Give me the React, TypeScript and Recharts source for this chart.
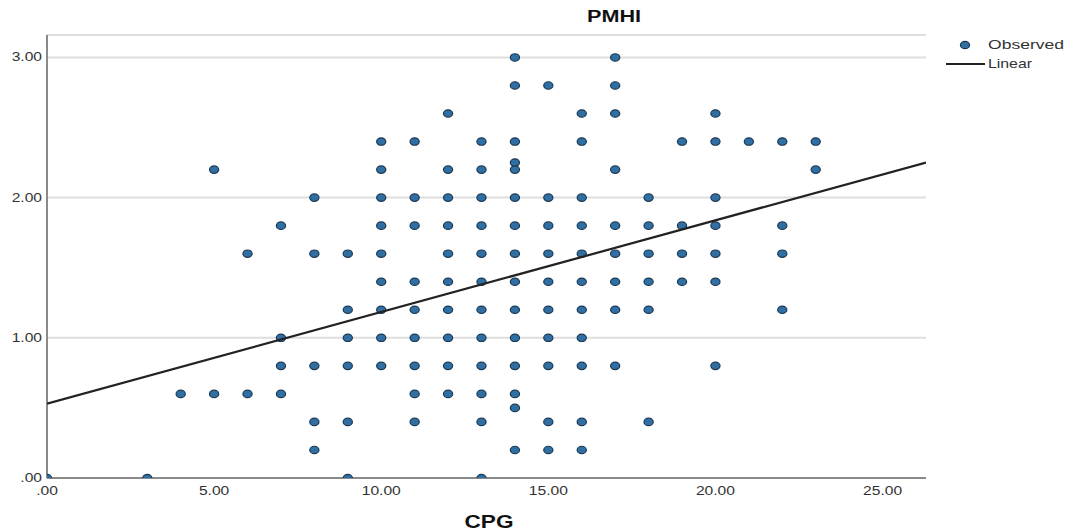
import React from "react";
import { ScatterChart, Scatter, XAxis, YAxis, CartesianGrid } from "recharts";

// Observed points: CPG (x) and PMHI (y)
const cpgValues: number[] = [
  0, 3, 4, 5, 5, 6, 6, 7, 7, 7, 7,
  8, 8, 8, 8, 8,
  9, 9, 9, 9, 9, 9,
  10, 10, 10, 10, 10, 10, 10, 10, 10,
  11, 11, 11, 11, 11, 11, 11, 11, 11,
  12, 12, 12, 12, 12, 12, 12, 12, 12, 12,
  13, 13, 13, 13, 13, 13, 13, 13, 13, 13, 13, 13,
  14, 14, 14, 14, 14, 14, 14, 14, 14, 14, 14, 14, 14, 14, 14,
  15, 15, 15, 15, 15, 15, 15, 15, 15, 15,
  16, 16, 16, 16, 16, 16, 16, 16, 16, 16, 16,
  17, 17, 17, 17, 17, 17, 17, 17, 17,
  18, 18, 18, 18, 18, 18,
  19, 19, 19, 19,
  20, 20, 20, 20, 20, 20, 20,
  21,
  22, 22, 22, 22,
  23, 23,
];
const pmhiValues: number[] = [
  0, 0, 0.6, 2.2, 0.6, 1.6, 0.6, 1.8, 1.0, 0.8, 0.6,
  2.0, 1.6, 0.8, 0.4, 0.2,
  1.6, 1.2, 1.0, 0.8, 0.4, 0,
  2.4, 2.2, 2.0, 1.8, 1.6, 1.4, 1.2, 1.0, 0.8,
  2.4, 2.0, 1.8, 1.4, 1.2, 1.0, 0.8, 0.6, 0.4,
  2.6, 2.2, 2.0, 1.8, 1.6, 1.4, 1.2, 1.0, 0.8, 0.6,
  2.4, 2.2, 2.0, 1.8, 1.6, 1.4, 1.2, 1.0, 0.8, 0.6, 0.4, 0,
  3.0, 2.8, 2.4, 2.25, 2.2, 2.0, 1.8, 1.6, 1.4, 1.2, 1.0, 0.8, 0.6, 0.5, 0.2,
  2.8, 2.0, 1.8, 1.6, 1.4, 1.2, 1.0, 0.8, 0.4, 0.2,
  2.6, 2.4, 2.0, 1.8, 1.6, 1.4, 1.2, 1.0, 0.8, 0.4, 0.2,
  3.0, 2.8, 2.6, 2.2, 1.8, 1.6, 1.4, 1.2, 0.8,
  2.0, 1.8, 1.6, 1.4, 1.2, 0.4,
  2.4, 1.8, 1.6, 1.4,
  2.6, 2.4, 2.0, 1.8, 1.6, 1.4, 0.8,
  2.4,
  2.4, 1.8, 1.6, 1.2,
  2.4, 2.2,
];

// Linear fit line endpoints
const fitX: number[] = [0, 26.3];
const fitY: number[] = [0.53, 2.25];

const xTicks: number[] = [0, 5, 10, 15, 20, 25];
const yTicks: number[] = [0, 1, 2, 3];

const observed = cpgValues.map((x, i) => ({ x, y: pmhiValues[i] }));
const fitted = fitX.map((x, i) => ({ x, y: fitY[i] }));

const fmt = (v: number) => (v === 0 ? ".00" : v.toFixed(2));

const FONT = "'Liberation Sans', Arial, sans-serif";
const STRETCH = 1.3;
const TICK_FS = 12;

const labelWidth = (s: string) => {
  let w = 0;
  for (const c of s) w += c === "." ? 0.278 : 0.556;
  return w * TICK_FS * STRETCH;
};

const XTick = (props: any) => {
  const { x, y, payload } = props;
  const s = fmt(payload.value);
  return (
    <text
      x={x}
      y={y + 17}
      textAnchor="middle"
      fontSize={TICK_FS}
      fill="#333"
      fontFamily={FONT}
      textLength={labelWidth(s)}
      lengthAdjust="spacingAndGlyphs"
    >
      {s}
    </text>
  );
};

const YTick = (props: any) => {
  const { x, y, payload } = props;
  const s = fmt(payload.value);
  return (
    <text
      x={x - 1}
      y={y + 4}
      textAnchor="end"
      fontSize={TICK_FS}
      fill="#333"
      fontFamily={FONT}
      textLength={labelWidth(s)}
      lengthAdjust="spacingAndGlyphs"
    >
      {s}
    </text>
  );
};

const Dot = (props: any) => {
  const { cx, cy } = props;
  if (cx == null || cy == null) return null;
  return (
    <ellipse cx={cx} cy={cy} rx={4.6} ry={3.7} fill="#2f6fa3" stroke="#1c3953" strokeWidth={1.2} />
  );
};

export default function App() {
  return (
    <div style={{ position: "absolute", left: 0, top: 0, width: 1067, height: 531, background: "#fff", fontFamily: FONT }}>
      <ScatterChart
        width={1067}
        height={531}
        margin={{ top: 35, right: 141, bottom: 0, left: 0 }}
      >
        <CartesianGrid horizontal vertical={false} stroke="#dedede" strokeWidth={2} />
        <XAxis
          type="number"
          dataKey="x"
          domain={[0, 26.3]}
          ticks={xTicks}
          allowDataOverflow
          height={53}
          tickLine={false}
          tickSize={0}
          tickMargin={0}
          axisLine={{ stroke: "#8a8a8a", strokeWidth: 2 }}
          tick={<XTick />}
        />
        <YAxis
          type="number"
          dataKey="y"
          domain={[0, 3.16]}
          ticks={yTicks}
          allowDataOverflow
          width={47}
          tickLine={false}
          tickSize={0}
          tickMargin={4}
          axisLine={{ stroke: "#8a8a8a", strokeWidth: 2 }}
          tick={<YTick />}
        />
        <Scatter data={observed} shape={<Dot />} isAnimationActive={false} />
        <Scatter
          data={fitted}
          line={{ stroke: "#222", strokeWidth: 2.2 }}
          shape={() => null}
          isAnimationActive={false}
        />
      </ScatterChart>
      <svg
        width={1067}
        height={531}
        style={{ position: "absolute", left: 0, top: 0, pointerEvents: "none" }}
      >
        <text x={614} y={22} textAnchor="middle" fontSize={16} fontWeight="bold" fill="#111" fontFamily={FONT} textLength={54} lengthAdjust="spacingAndGlyphs">
          PMHI
        </text>
        <text x={489} y={528} textAnchor="middle" fontSize={19} fontWeight="bold" fill="#111" fontFamily={FONT} textLength={49} lengthAdjust="spacingAndGlyphs">
          CPG
        </text>
        <ellipse cx={965} cy={45} rx={4.6} ry={3.7} fill="#2f6fa3" stroke="#1c3953" strokeWidth={1.2} />
        <text x={988} y={49} fontSize={13} fill="#333" fontFamily={FONT} textLength={76} lengthAdjust="spacingAndGlyphs">
          Observed
        </text>
        <line x1={946} y1={64} x2={985} y2={64} stroke="#222" strokeWidth={2.2} />
        <text x={988} y={68} fontSize={13} fill="#333" fontFamily={FONT} textLength={44} lengthAdjust="spacingAndGlyphs">
          Linear
        </text>
      </svg>
    </div>
  );
}
